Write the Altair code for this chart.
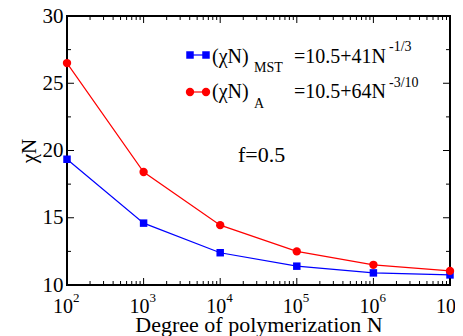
import altair as alt
import pandas as pd

# ---- data ----
N = [1e2, 1e3, 1e4, 1e5, 1e6, 1e7]
chi_mst = [19.35, 14.6, 12.4, 11.4, 10.9, 10.75]
chi_a = [26.5, 18.4, 14.45, 12.5, 11.5, 11.05]

x_major = [1e2, 1e3, 1e4, 1e5, 1e6, 1e7]
x_exp = ["2", "3", "4", "5", "6", "7"]
x_minor_mult = [2, 3, 4, 5, 6, 7, 8, 9]
y_major = [10, 15, 20, 25, 30]
y_minor = [12.5, 17.5, 22.5, 27.5]

x_minor = [m * d for d in x_major[:-1] for m in x_minor_mult]

W, H = 383, 269
FONT = "Liberation Serif"
BLUE = "#0000ff"
RED = "#ff0000"

df = pd.DataFrame({
    "N": N * 2,
    "chi": chi_mst + chi_a,
    "series": ["MST"] * len(N) + ["A"] * len(N),
})
df_xmaj = pd.DataFrame({"N": x_major, "lab": ["10"] * len(x_major), "exp": x_exp})
df_xmin = pd.DataFrame({"N": x_minor})
df_ymaj = pd.DataFrame({"chi": y_major})
df_ymin = pd.DataFrame({"chi": y_minor})
one = pd.DataFrame({"a": [0]})

xscale = alt.Scale(type="log", domain=[1e2, 1e7], nice=False)
yscale = alt.Scale(domain=[10, 30], nice=False, zero=False)
xaxis = alt.Axis(labels=False, ticks=False, domain=False, grid=False,
                 title="Degree of polymerization N", titleFontSize=22,
                 titleFont=FONT, titleFontWeight="normal", titlePadding=29,
                 titleColor="black")
yaxis = alt.Axis(values=y_major, ticks=False, domain=False, grid=False,
                 labelFontSize=21, labelFont=FONT, labelColor="black",
                 labelPadding=4, title="χN", titleFontSize=21, titleFont=FONT,
                 titleFontWeight="normal", titlePadding=3, titleColor="black")


def X():
    return alt.X("N:Q", scale=xscale, axis=xaxis)


def Y():
    return alt.Y("chi:Q", scale=yscale, axis=yaxis)


lines = alt.Chart(df).mark_line(strokeWidth=1.2).encode(
    x=X(), y=Y(),
    color=alt.Color("series:N", scale=alt.Scale(domain=["MST", "A"], range=[BLUE, RED]), legend=None),
)
pts_mst = alt.Chart(df).transform_filter(alt.datum.series == "MST").mark_point(
    shape="square", filled=True, size=56, opacity=1, color=BLUE).encode(x=X(), y=Y())
pts_a = alt.Chart(df).transform_filter(alt.datum.series == "A").mark_point(
    shape="circle", filled=True, size=70, opacity=1, color=RED).encode(x=X(), y=Y())

# inward ticks on all four sides
tick_style = dict(color="black", strokeWidth=1)
xt_bot_maj = alt.Chart(df_xmaj).mark_rule(**tick_style).encode(x=X(), y=alt.value(H), y2=alt.value(H - 7))
xt_top_maj = alt.Chart(df_xmaj).mark_rule(**tick_style).encode(x=X(), y=alt.value(0), y2=alt.value(7))
xt_bot_min = alt.Chart(df_xmin).mark_rule(**tick_style).encode(x=X(), y=alt.value(H), y2=alt.value(H - 4))
xt_top_min = alt.Chart(df_xmin).mark_rule(**tick_style).encode(x=X(), y=alt.value(0), y2=alt.value(4))
yt_l_maj = alt.Chart(df_ymaj).mark_rule(**tick_style).encode(y=Y(), x=alt.value(0), x2=alt.value(7))
yt_r_maj = alt.Chart(df_ymaj).mark_rule(**tick_style).encode(y=Y(), x=alt.value(W), x2=alt.value(W - 7))
yt_l_min = alt.Chart(df_ymin).mark_rule(**tick_style).encode(y=Y(), x=alt.value(0), x2=alt.value(4))
yt_r_min = alt.Chart(df_ymin).mark_rule(**tick_style).encode(y=Y(), x=alt.value(W), x2=alt.value(W - 4))

# x tick labels 10^k
xl_base = alt.Chart(df_xmaj).mark_text(align="right", baseline="alphabetic", dx=6,
                                       fontSize=20, font=FONT, color="black").encode(
    x=X(), y=alt.value(297), text="lab:N")
xl_exp = alt.Chart(df_xmaj).mark_text(align="left", baseline="alphabetic", dx=6,
                                      fontSize=13, font=FONT, color="black").encode(
    x=X(), y=alt.value(286), text="exp:N")


def txt(s, x, y, size):
    return alt.Chart(one).mark_text(text=s, align="left", baseline="alphabetic",
                                    fontSize=size, font=FONT, color="black").encode(
        x=alt.value(x), y=alt.value(y))


# legend
leg = []
leg.append(alt.Chart(one).mark_rule(color=BLUE, strokeWidth=1.2).encode(
    x=alt.value(123), x2=alt.value(139), y=alt.value(39)))
for xx in (123, 139):
    leg.append(alt.Chart(one).mark_point(shape="square", filled=True, size=56, opacity=1,
                                         color=BLUE).encode(x=alt.value(xx), y=alt.value(39)))
leg.append(alt.Chart(one).mark_rule(color=RED, strokeWidth=1.2).encode(
    x=alt.value(123), x2=alt.value(139), y=alt.value(76)))
for xx in (123, 139):
    leg.append(alt.Chart(one).mark_point(shape="circle", filled=True, size=70, opacity=1,
                                         color=RED).encode(x=alt.value(xx), y=alt.value(76)))
leg += [
    txt("(χN)", 145, 47, 20), txt("MST", 187, 56, 14),
    txt("=10.5+41N", 227, 47, 20), txt("-1/3", 322, 35, 14),
    txt("(χN)", 145, 82, 20), txt("A", 187, 92, 14),
    txt("=10.5+64N", 227, 82, 20), txt("-3/10", 322, 71, 14),
    txt("f=0.5", 171, 146, 22),
]

chart = alt.layer(
    lines, pts_mst, pts_a,
    xt_bot_maj, xt_top_maj, xt_bot_min, xt_top_min,
    yt_l_maj, yt_r_maj, yt_l_min, yt_r_min,
    xl_base, xl_exp, *leg,
).properties(
    width=W, height=H,
    autosize=alt.AutoSizeParams(type="none"),
    padding={"left": 59, "top": 8, "right": 5, "bottom": 51},
    background="white",
).configure_view(stroke="black", strokeWidth=2)

chart.save("out.html", embed_options={"renderer": "svg", "actions": False})
